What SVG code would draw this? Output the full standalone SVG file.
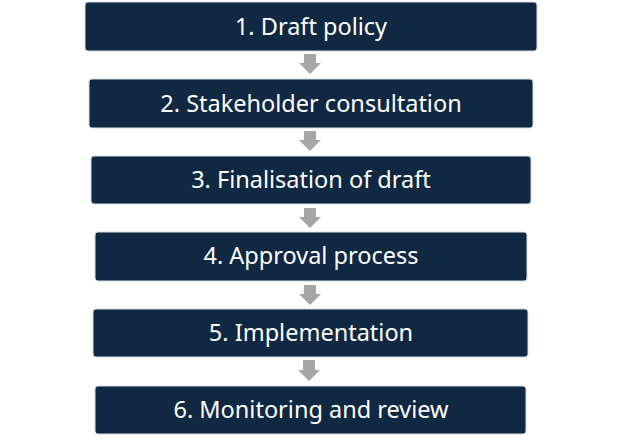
<svg xmlns="http://www.w3.org/2000/svg" width="620" height="440" viewBox="0 0 620 440">
<defs>
<style>
.box{fill:#112842;stroke:#d5dbe3;stroke-width:1}
.lbl{font-family:"Noto Sans","Open Sans","Liberation Sans",sans-serif;font-size:23.5px;fill:#ffffff;text-anchor:middle}
.arr{fill:#a6a6a6}
</style>
</defs>
<rect width="620" height="440" fill="#ffffff"/>
<g id="connectors">
<path class="arr" d="M304,54 H316 V63 H321 L310,74 L299,63 H304 Z"/>
<path class="arr" d="M304,131 H316 V140 H321 L310,151 L299,140 H304 Z"/>
<path class="arr" d="M304,208 H316 V217 H321 L310,228 L299,217 H304 Z"/>
<path class="arr" d="M304,285 H316 V294 H321 L310,305 L299,294 H304 Z"/>
<path class="arr" d="M303,360 H315 V370 H320 L309,381 L298,370 H303 Z"/>
</g>
<g id="node1"><rect class="box" x="85" y="2" width="452" height="49" rx="3"/><text class="lbl" x="311" y="35">1. Draft policy</text></g>
<g id="node2"><rect class="box" x="89" y="79" width="444" height="49" rx="3"/><text class="lbl" x="311" y="112">2. Stakeholder consultation</text></g>
<g id="node3"><rect class="box" x="91" y="156" width="440" height="48" rx="3"/><text class="lbl" x="311" y="188">3. Finalisation of draft</text></g>
<g id="node4"><rect class="box" x="95" y="232" width="432" height="49" rx="3"/><text class="lbl" x="311" y="264">4. Approval process</text></g>
<g id="node5"><rect class="box" x="93" y="309" width="435" height="48" rx="3"/><text class="lbl" x="311" y="341">5. Implementation</text></g>
<g id="node6"><rect class="box" x="95" y="386" width="431" height="48" rx="3"/><text class="lbl" x="311" y="418">6. Monitoring and review</text></g>
</svg>
